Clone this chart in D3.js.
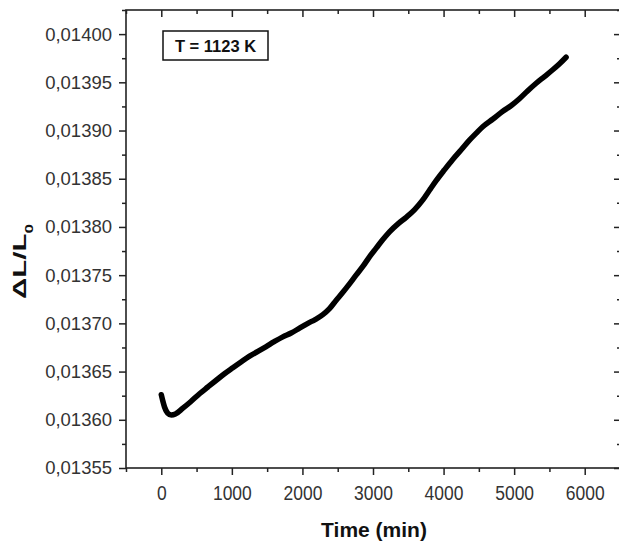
<!DOCTYPE html>
<html>
<head>
<meta charset="utf-8">
<script src="https://cdn.jsdelivr.net/npm/d3@7"></script>
<style>
  html, body { margin: 0; padding: 0; background: #fff; }
  svg { display: block; }
</style>
</head>
<body>
<svg id="chart" width="619" height="545"></svg>
<script>
// ---- data ----
const timeMin = [0, 20, 47, 90, 142, 200, 306, 420, 542, 660, 779, 900, 1014, 1130, 1251, 1370, 1487, 1600, 1722, 1840, 1959, 2077, 2180, 2289, 2380, 2479, 2570, 2667, 2760, 2856, 2950, 3045, 3140, 3234, 3350, 3470, 3590, 3706, 3800, 3895, 4010, 4130, 4250, 4367, 4460, 4555, 4700, 4839, 4960, 5075, 5190, 5312, 5430, 5547, 5640, 5736];
const deltaL = [0.013626, 0.013620, 0.013613, 0.013607, 0.013605, 0.013606, 0.013612, 0.013619, 0.013627, 0.013634, 0.013641, 0.013648, 0.013654, 0.013660, 0.013666, 0.013671, 0.013676, 0.013681, 0.013686, 0.013690, 0.013695, 0.013700, 0.013704, 0.013709, 0.013715, 0.013724, 0.013732, 0.013741, 0.013750, 0.013759, 0.013769, 0.013778, 0.013787, 0.013795, 0.013803, 0.013810, 0.013818, 0.013828, 0.013838, 0.013848, 0.013859, 0.013870, 0.013880, 0.013890, 0.013897, 0.013904, 0.013912, 0.013920, 0.013926, 0.013933, 0.013941, 0.013949, 0.013956, 0.013963, 0.013969, 0.013976];
const xMajorTicks = [0, 1000, 2000, 3000, 4000, 5000, 6000];
const xMinorTicks = [-500, 500, 1500, 2500, 3500, 4500, 5500, 6500];
const yMajorTicks = [0.01355, 0.01360, 0.01365, 0.01370, 0.01375, 0.01380, 0.01385, 0.01390, 0.01395, 0.01400];
const yMinorTicks = [0.013575, 0.013625, 0.013675, 0.013725, 0.013775, 0.013825, 0.013875, 0.013925, 0.013975, 0.014025];
const xTitle = "Time (min)";
const annotation = "T = 1123 K";

// ---- layout ----
const mL = 126, mT = 10, mR = 620, mB = 468;
const svg = d3.select("#chart");
const x = d3.scaleLinear().domain([-500, 6500]).range([mL, mR]);
const y = d3.scaleLinear().domain([0.01355, 0.014025]).range([mB, mT]);
const axisColor = "#222";
const fontFam = "Arial, 'Liberation Sans', sans-serif";
const fmtY = v => d3.format(".5f")(v).replace(".", ",");

// frame
svg.append("rect").attr("x", mL).attr("y", mT).attr("width", mR - mL).attr("height", mB - mT)
  .attr("fill", "none").attr("stroke", axisColor).attr("stroke-width", 1.6);

// bottom axis (outward ticks)
const gBottom = svg.append("g").attr("transform", `translate(0,${mB})`)
  .call(d3.axisBottom(x).tickValues(xMajorTicks).tickSize(7).tickSizeOuter(0).tickFormat(d3.format("d")));
gBottom.append("g").call(d3.axisBottom(x).tickValues(xMinorTicks).tickSize(4).tickSizeOuter(0).tickFormat(""));
// top axis (inward ticks)
const gTop = svg.append("g").attr("transform", `translate(0,${mT})`)
  .call(d3.axisBottom(x).tickValues(xMajorTicks).tickSize(7).tickSizeOuter(0).tickFormat(""));
gTop.append("g").call(d3.axisBottom(x).tickValues(xMinorTicks).tickSize(4).tickSizeOuter(0).tickFormat(""));
// left axis (outward ticks)
const gLeft = svg.append("g").attr("transform", `translate(${mL},0)`)
  .call(d3.axisLeft(y).tickValues(yMajorTicks).tickSize(7).tickSizeOuter(0).tickPadding(7).tickFormat(fmtY));
gLeft.append("g").call(d3.axisLeft(y).tickValues(yMinorTicks).tickSize(4).tickSizeOuter(0).tickFormat(""));
// right axis (inward ticks)
const gRight = svg.append("g").attr("transform", `translate(${mR},0)`)
  .call(d3.axisLeft(y).tickValues(yMajorTicks).tickSize(6).tickSizeOuter(0).tickFormat(""));
gRight.append("g").call(d3.axisLeft(y).tickValues(yMinorTicks).tickSize(3).tickSizeOuter(0).tickFormat(""));

svg.selectAll(".domain").remove();
svg.selectAll(".tick line").attr("stroke", axisColor).attr("stroke-width", 1.5);
svg.selectAll(".tick text").attr("fill", "#333").style("font-family", fontFam);
gLeft.selectAll(".tick text").style("font-size", "18.5px");
// x tick labels: slightly tall glyphs as in the reference
gBottom.selectAll(".tick text").style("font-size", "17.5px")
  .attr("y", 14).attr("transform", "scale(1,1.2)");

// curve
const pts = timeMin.map((t, i) => [t, deltaL[i]]);
svg.append("path").datum(pts)
  .attr("fill", "none").attr("stroke", "#000").attr("stroke-width", 5.5)
  .attr("stroke-linecap", "round").attr("stroke-linejoin", "round")
  .attr("d", d3.line().x(d => x(d[0])).y(d => y(d[1])).curve(d3.curveMonotoneX));

// annotation box
svg.append("rect").attr("x", 163).attr("y", 31).attr("width", 105).attr("height", 29)
  .attr("fill", "#fff").attr("stroke", "#111").attr("stroke-width", 1.5);
svg.append("text").attr("x", 215.5).attr("y", 51.5).attr("text-anchor", "middle")
  .style("font-family", fontFam).style("font-weight", "bold").style("font-size", "16.5px")
  .attr("fill", "#111").text(annotation);

// axis titles
svg.append("text").attr("x", 374).attr("y", 537).attr("text-anchor", "middle")
  .style("font-family", fontFam).style("font-weight", "bold").style("font-size", "21px")
  .attr("fill", "#111").text(xTitle);

const yt = svg.append("text").attr("transform", "translate(26,261.5) rotate(-90) scale(1.55,1)")
  .attr("text-anchor", "middle")
  .style("font-family", fontFam).style("font-weight", "bold").style("font-size", "19px")
  .attr("fill", "#111");
yt.append("tspan").text("ΔL/L");
yt.append("tspan").attr("dy", 7).style("font-size", "11px").text("0");
</script>
</body>
</html>
